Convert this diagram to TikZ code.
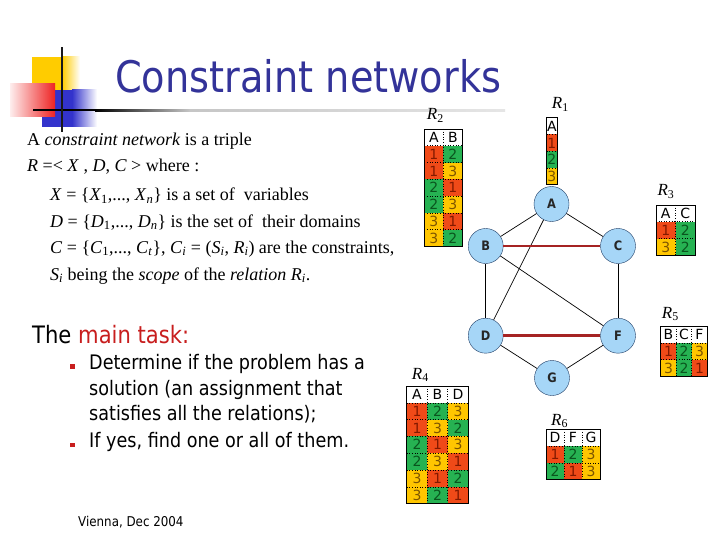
\documentclass[tikz,border=0pt]{standalone}
\usepackage{fontspec}
\setmainfont{Liberation Serif}
\setsansfont[FakeStretch=0.88]{DejaVu Sans}
\newfontfamily\cellfont{DejaVu Sans}

\definecolor{titleblue}{RGB}{51,51,153}
\definecolor{taskred}{RGB}{200,30,30}
\definecolor{v1}{RGB}{240,74,24}
\definecolor{v2}{RGB}{38,178,82}
\definecolor{v3}{RGB}{255,198,0}
\definecolor{t1}{RGB}{130,25,0}
\definecolor{t2}{RGB}{10,85,30}
\definecolor{t3}{RGB}{125,85,0}
\definecolor{nodefill}{RGB}{166,214,247}
\definecolor{nodeline}{RGB}{30,60,100}
\definecolor{edgered}{RGB}{165,35,35}
\definecolor{decoyellow}{RGB}{255,204,0}
\definecolor{decoblue}{RGB}{51,51,204}
\definecolor{decored}{RGB}{238,34,34}

\tikzset{
  txt/.style={anchor=base west, inner sep=0pt},
  varnode/.style={circle, draw=nodeline, fill=nodefill, minimum size=35pt, inner sep=0pt,
    font=\sffamily\bfseries\fontsize{13}{13}\selectfont, text=black!85},
  conline/.style={black, line width=0.7pt},
  redline/.style={edgered, line width=2.6pt},
  headcell/.style={inner sep=0pt, font=\cellfont\fontsize{14}{14}\selectfont},
  valcell/.style={inner sep=0pt, font=\cellfont\fontsize{14}{14}\selectfont},
  gridline/.style={black, line width=0.6pt, dotted},
  rlabel/.style={anchor=base west, inner sep=0pt, font=\fontsize{17}{17}\selectfont}
}

\newcommand{\rowh}{16.8}
% relation table: name, top left x, top left y, column width, header, rows
\newcommand{\reltab}[6]{%
  \foreach \hd [count=\colno] in {#5} {
    \node[headcell] (#1-h\colno) at ({#2+(\colno-0.5)*#4}, {#3+0.5*\rowh}) {\hd};
    \xdef\ncols{\colno}
  }
  \foreach \row [count=\rowno] in {#6} {
    \foreach \val [count=\colno] in \row {
      \fill[fill=v\val] ({#2+(\colno-1)*#4}, {#3+\rowno*\rowh}) rectangle ++(#4, \rowh);
      \node[valcell, text=t\val] (#1-\rowno-\colno) at ({#2+(\colno-0.5)*#4}, {#3+(\rowno+0.5)*\rowh}) {\val};
    }
    \xdef\nrows{\rowno}
  }
  \foreach \colno in {2,...,\ncols}
    \draw[gridline] ({#2+(\colno-1)*#4}, #3) -- ++(0, {(\nrows+1)*\rowh});
  \foreach \rowno in {1,...,\nrows}
    \draw[gridline] (#2, {#3+\rowno*\rowh}) -- ++({\ncols*#4}, 0);
  \draw[black, line width=0.8pt] (#2,#3) rectangle ++({\ncols*#4}, {(\nrows+1)*\rowh});
}

\begin{document}
\begin{tikzpicture}[x=1pt, y=-1pt]
  \fill[white] (0,0) rectangle (720,540);
  \useasboundingbox (0,0) rectangle (720,540);

  % Title decoration
  \fill[decoyellow] (31.7,56.7) rectangle (62,90);
  \shade[left color=decoyellow, right color=white] (62,56.7) rectangle (80,90);
  \fill[decoblue] (41.7,90) rectangle (72,126.7);
  \shade[left color=decoblue, right color=white] (72,90) rectangle (97,126.7);
  \shade[left color=decored!8, right color=decored] (10,83.3) rectangle (55,116.7);
  \fill[black] (33,109.5) rectangle (95,111.5);
  \shade[left color=black, right color=gray!45] (95,109.5) rectangle (190,111.5);
  \shade[left color=gray!45, right color=gray!20] (190,109.5) rectangle (505,111.5);
  \fill[black!90] (60.5,46.7) rectangle (62.9,131.7);

  % Title
  \node[txt, font=\sffamily\fontsize{43.5}{43.5}\selectfont, text=titleblue] (title) at (115,93) {Constraint networks};

  % Definition
  \begin{scope}[every node/.style={txt, font=\fontsize{18}{20}\selectfont}]
    \node (def1) at (27,146) {A \textit{constraint network} is a triple};
    \node (def2) at (27,172) {\textit{R} =< \textit{X} , \textit{D}, \textit{C} > where :};
    \node (def3) at (50,201) {\textit{X} = \{\textit{X}\textsubscript{1},..., \textit{X}\textsubscript{\textit{n}}\} is a set of\ \ variables};
    \node (def4) at (50,227) {\textit{D} = \{\textit{D}\textsubscript{1},..., \textit{D}\textsubscript{\textit{n}}\} is the set of\ \ their domains};
    \node (def5) at (50,253) {\textit{C} = \{\textit{C}\textsubscript{1},..., \textit{C}\textsubscript{\textit{t}}\}, \textit{C}\textsubscript{\textit{i}} = (\textit{S}\textsubscript{\textit{i}}, \textit{R}\textsubscript{\textit{i}}) are the constraints,};
    \node (def6) at (50,280) {\textit{S}\textsubscript{\textit{i}} being the \textit{scope} of the \textit{relation R}\textsubscript{\textit{i}}.};
  \end{scope}

  % Main task
  \node[txt, font=\sffamily\fontsize{24}{24}\selectfont] (task) at (32,343) {The \textcolor{taskred}{main task:}};
  \begin{scope}[every node/.style={txt, font=\sffamily\fontsize{20}{20}\selectfont}]
    \node (item1) at (89,369) {Determine if the problem has a};
    \node (item1b) at (89,395) {solution (an assignment that};
    \node (item1c) at (89,420) {satisfies all the relations);};
    \node (item2) at (89,447) {If yes, find one or all of them.};
  \end{scope}
  \fill[taskred] (70,364.3) rectangle (74.5,369);
  \fill[taskred] (70,442.5) rectangle (74.5,447);
  \node[txt, font=\sffamily\fontsize{13.5}{13.5}\selectfont] (footer) at (78,526) {Vienna, Dec 2004};

  % Relations
  \reltab{r1}{546.7}{117.7}{10.3}{A}{1,2,3}
  \reltab{r2}{424.3}{129}{19}{A,B}{{1,2},{1,3},{2,1},{2,3},{3,1},{3,2}}
  \reltab{r3}{656}{205}{19.5}{A,C}{{1,2},{3,2}}
  \reltab{r4}{406.7}{386}{20.5}{A,B,D}{{1,2,3},{1,3,2},{2,1,3},{2,3,1},{3,1,2},{3,2,1}}
  \reltab{r5}{660.7}{326}{15.5}{B,C,F}{{1,2,3},{3,2,1}}
  \reltab{r6}{546}{429.3}{18}{D,F,G}{{1,2,3},{2,1,3}}
  \node[rlabel] (lr1) at (551.7,109) {\textit{R}\textsubscript{1}};
  \node[rlabel] (lr2) at (426.7,120) {\textit{R}\textsubscript{2}};
  \node[rlabel] (lr3) at (657.3,196) {\textit{R}\textsubscript{3}};
  \node[rlabel] (lr4) at (411.7,379.3) {\textit{R}\textsubscript{4}};
  \node[rlabel] (lr5) at (661.7,318.3) {\textit{R}\textsubscript{5}};
  \node[rlabel] (lr6) at (551,425) {\textit{R}\textsubscript{6}};

  % Constraint graph
  \node[varnode] (A) at (551.5,204) {A};
  \node[varnode] (B) at (485.7,246) {B};
  \node[varnode] (C) at (618,246) {C};
  \node[varnode] (D) at (485.7,335.7) {D};
  \node[varnode] (F) at (618,335.7) {F};
  \node[varnode] (G) at (552,378) {G};
  \draw[conline] (A) -- (B);
  \draw[conline] (A) -- (C);
  \draw[conline] (A) -- (D);
  \draw[conline] (B) -- (D);
  \draw[conline] (B) -- (F);
  \draw[conline] (C) -- (F);
  \draw[conline] (D) -- (G);
  \draw[conline] (F) -- (G);
  \draw[redline] (B) -- (C);
  \draw[redline] (D) -- (F);
\end{tikzpicture}
\end{document}
